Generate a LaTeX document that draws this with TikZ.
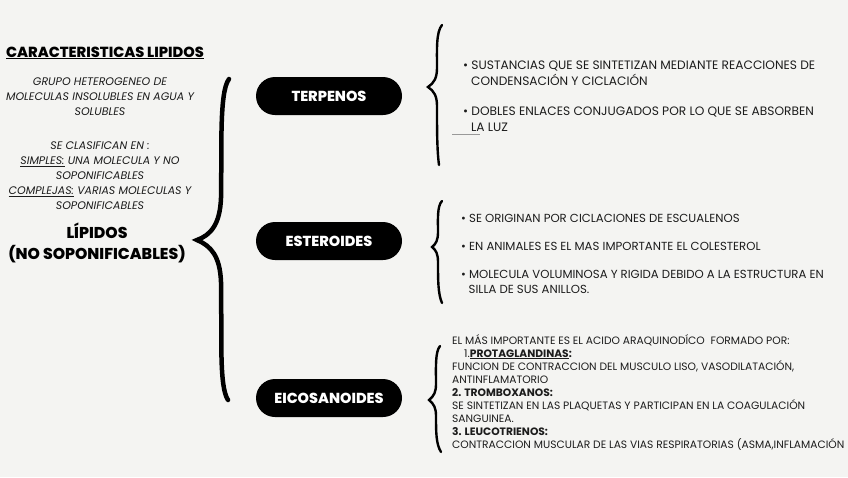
\documentclass[tikz,border=0pt]{standalone}
\usepackage{fontspec}
\setmainfont{Poppins}
\IfFontExistsTF{Poppins ExtraBold}
  {\newfontfamily\gruesa{Poppins ExtraBold}}
  {\newfontfamily\gruesa{Poppins}[FakeBold=1.5]}
\usepackage{tikz}
\usetikzlibrary{positioning}
\definecolor{fondo}{RGB}{244,244,242}
\definecolor{tinta}{RGB}{28,28,28}

\begin{document}
\begin{tikzpicture}[x=1pt,y=-1pt,
  pill/.style={rounded corners=19pt,fill=black,text=white,minimum width=146pt,
    minimum height=38pt,inner sep=0pt,font=\fontsize{14.5}{16}\gruesa},
  llave/.style={line width=4.5pt,line cap=round,line join=miter},
  llavita/.style={line width=2.4pt,line cap=round},
  punto/.style={anchor=west,inner sep=0pt,text=tinta,align=left,
    font=\fontsize{12.2}{15.5}\selectfont},
  nota/.style={align=center,inner sep=0pt,text=tinta,
    font=\fontsize{11}{15}\selectfont\itshape}]
  \fill[fondo] (0,0) rectangle (848,477);
  \useasboundingbox (0,0) rectangle (848,477);

  % columna izquierda
  \node[inner sep=0pt,font=\fontsize{14.6}{16}\gruesa] (titulo) at (105,53)
    {\underline{CARACTERISTICAS LIPIDOS}};
  \node[nota] (grupo) at (100,97)
    {GRUPO HETEROGENEO DE\\MOLECULAS INSOLUBLES EN AGUA Y\\SOLUBLES};
  \node[nota] (clases) at (100,176)
    {SE CLASIFICAN EN :\\\underline{SIMPLES:} UNA MOLECULA Y NO\\SOPONIFICABLES\\
     \underline{COMPLEJAS:} VARIAS MOLECULAS Y\\SOPONIFICABLES};
  \node[align=center,inner sep=0pt,font=\fontsize{15.7}{21}\gruesa] (lipidos) at (97,243)
    {LÍPIDOS\\(NO SOPONIFICABLES)};

  % llave grande
  \draw[llave] (229,79) .. controls (219,92) and (222,150) .. (221,198)
    .. controls (220,224) and (211,235) .. (197,240)
    .. controls (211,246) and (220,256) .. (221,282)
    .. controls (222,340) and (219,386) .. (228,400);

  % grupos
  \node[pill] (terpenos) at (329,96) {TERPENOS};
  \node[pill] (esteroides) at (329,241) {ESTEROIDES};
  \node[pill] (eicosanoides) at (329,398) {EICOSANOIDES};

  % llaves pequenas
  \draw[llavita] (442,25) .. controls (436,32) and (437,50) .. (437,68)
    .. controls (437,78) and (434,83) .. (428,87)
    .. controls (434,91) and (437,96) .. (437,106)
    .. controls (437,130) and (437,150) .. (439,165);
  \draw[llavita] (442,201) .. controls (437,206) and (438,220) .. (438,232)
    .. controls (438,240) and (436,244) .. (432,247)
    .. controls (436,250) and (438,254) .. (438,262)
    .. controls (438,280) and (438,294) .. (442,303);
  \draw[llavita] (440,346) .. controls (435,352) and (436,368) .. (436,384)
    .. controls (436,392) and (434,396) .. (429,400)
    .. controls (434,404) and (436,408) .. (436,416)
    .. controls (436,432) and (436,444) .. (441,452);

  % terpenos
  \node[punto] (t1) at (463,73)
    {\textbullet\ SUSTANCIAS QUE SE SINTETIZAN MEDIANTE REACCIONES DE\\
     \hspace*{8pt}CONDENSACIÓN Y CICLACIÓN};
  \node[punto] (t2) at (463,119)
    {\textbullet\ DOBLES ENLACES CONJUGADOS POR LO QUE SE ABSORBEN\\
     \hspace*{8pt}LA LUZ};
  \draw[black!40,line width=0.6pt] (452,134) -- (480,134);

  % esteroides
  \node[punto,font=\fontsize{11.7}{15.5}\selectfont] (e1) at (461,218)
    {\textbullet\ SE ORIGINAN POR CICLACIONES DE ESCUALENOS};
  \node[punto,font=\fontsize{11.7}{15.5}\selectfont] (e2) at (461,246)
    {\textbullet\ EN ANIMALES ES EL MAS IMPORTANTE EL COLESTEROL};
  \node[punto,font=\fontsize{11.7}{15.5}\selectfont] (e3) at (461,282)
    {\textbullet\ MOLECULA VOLUMINOSA Y RIGIDA DEBIDO A LA ESTRUCTURA EN\\
     \hspace*{7.5pt}SILLA DE SUS ANILLOS.};

  % eicosanoides
  \node[punto,font=\fontsize{10.7}{13.1}\selectfont] (ei) at (452,392.5)
    {EL MÁS IMPORTANTE ES EL ACIDO ARAQUINODÍCO\ \ FORMADO POR:\\
     \hspace*{12pt}1.\textbf{\underline{PROTAGLANDINAS}:}\\
     FUNCION DE CONTRACCION DEL MUSCULO LISO, VASODILATACIÓN,\\
     ANTINFLAMATORIO\\
     \textbf{2. TROMBOXANOS:}\\
     SE SINTETIZAN EN LAS PLAQUETAS Y PARTICIPAN EN LA COAGULACIÓN\\
     SANGUINEA.\\
     \textbf{3. LEUCOTRIENOS:}\\
     CONTRACCION MUSCULAR DE LAS VIAS RESPIRATORIAS (ASMA,INFLAMACIÓN};
\end{tikzpicture}
\end{document}
